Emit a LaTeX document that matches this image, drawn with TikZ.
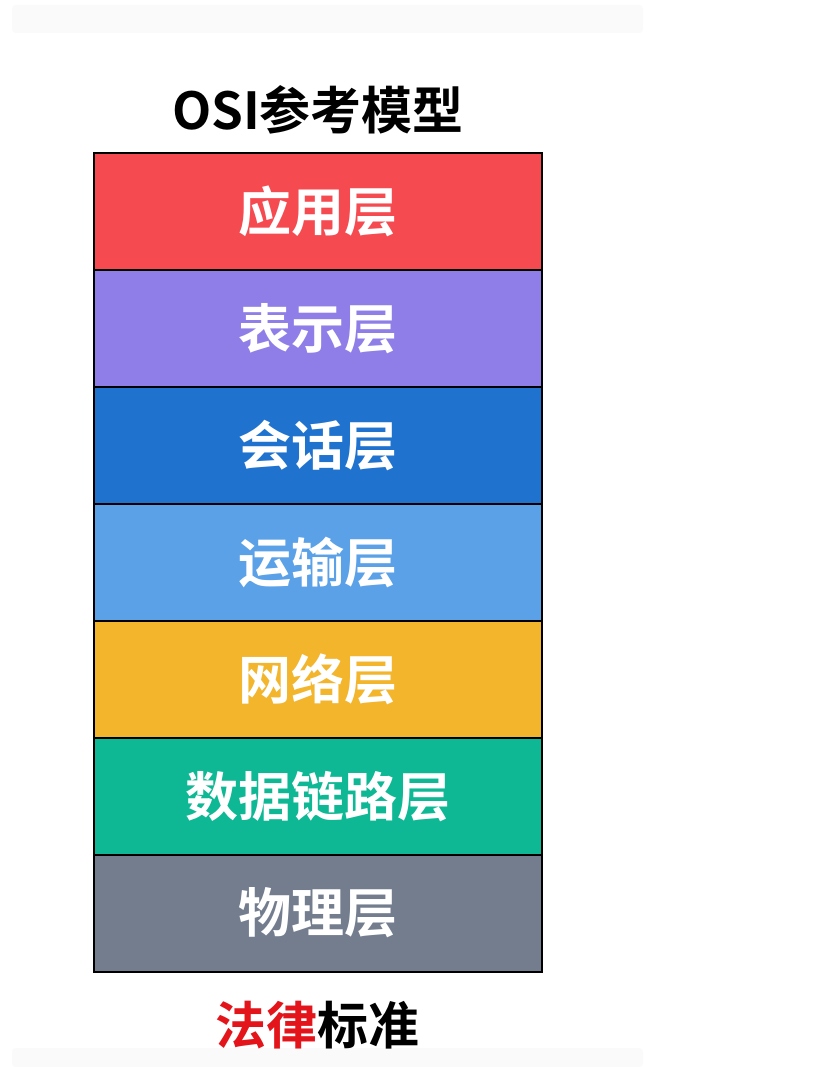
\documentclass[tikz,border=0pt]{standalone}
\usepackage{fontspec}
\newfontfamily\cjk{Noto Sans CJK SC}[BoldFont=* Bold]
\definecolor{lred}{HTML}{F64A51}
\definecolor{lpurple}{HTML}{8F7EE8}
\definecolor{ldblue}{HTML}{1F73CF}
\definecolor{llblue}{HTML}{5AA1E8}
\definecolor{lyellow}{HTML}{F2B52B}
\definecolor{lteal}{HTML}{0EB894}
\definecolor{lgray}{HTML}{737D8E}
\definecolor{lawred}{HTML}{E3151B}
\definecolor{bandgray}{HTML}{FAFAFA}
\tikzset{
  layer/.style={draw=black, line width=2pt, minimum width=448pt, minimum height=117pt,
    inner sep=0pt, text=white, font=\cjk\bfseries\fontsize{53}{63}\selectfont},
  heading/.style={inner sep=0pt, font=\cjk\bfseries\fontsize{51}{61}\selectfont}
}
\begin{document}
\begin{tikzpicture}[x=1pt,y=-1pt]
\useasboundingbox (0,0) rectangle (826,1067);
\fill[white] (0,0) rectangle (826,1067);
\fill[bandgray, rounded corners=4pt] (12,5) rectangle (643,33);
\fill[bandgray, rounded corners=4pt] (12,1048) rectangle (643,1067);
\node[heading] (title) at (318,110) {OSI参考模型};
\node[layer, fill=lred]    (l7) at (318,211.5) {应用层};
\node[layer, fill=lpurple] (l6) at (318,328.5) {表示层};
\node[layer, fill=ldblue]  (l5) at (318,445.5) {会话层};
\node[layer, fill=llblue]  (l4) at (318,562.5) {运输层};
\node[layer, fill=lyellow] (l3) at (318,679.5) {网络层};
\node[layer, fill=lteal]   (l2) at (318,796.5) {数据链路层};
\node[layer, fill=lgray]   (l1) at (318,913)   {物理层};
\node[heading] (law) at (317,1025) {\textcolor{lawred}{法律}标准};
\end{tikzpicture}
\end{document}
